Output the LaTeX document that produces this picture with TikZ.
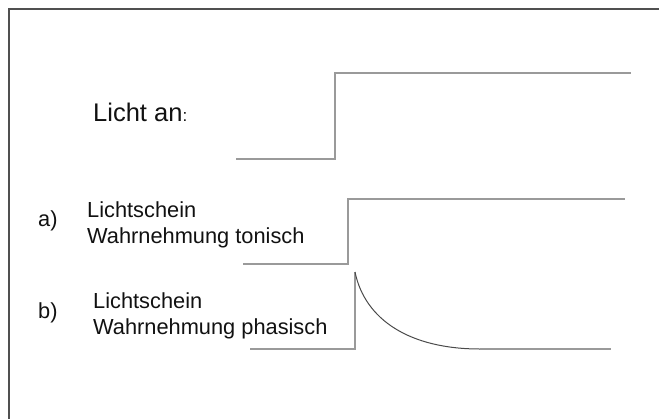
\documentclass[tikz,border=0pt]{standalone}
\usepackage{fontspec}
\setmainfont{Liberation Sans}
\definecolor{framecol}{HTML}{505050}
\definecolor{stepcol}{HTML}{9A9A9A}
\definecolor{curvecol}{HTML}{4A4A4A}
\definecolor{textcol}{HTML}{111111}
\begin{document}
\begin{tikzpicture}[x=1pt,y=-1pt,
  signal/.style={draw=stepcol,line width=1.5pt,line join=miter},
  decay/.style={draw=curvecol,line width=1pt},
  lbl/.style={anchor=base west,inner sep=0pt,text=textcol,font=\fontsize{21.8}{24}\selectfont},
  title/.style={anchor=base west,inner sep=0pt,text=textcol,font=\fontsize{25.5}{29}\selectfont}]
\useasboundingbox (0,0) rectangle (659,418);
\clip (0,0) rectangle (659,418);
% frame
\draw[framecol,line width=2pt] (8.5,8.5) rectangle (700,460);
% texts
\node[title] (licht) at (93,121) {Licht an\fontsize{17}{20}\selectfont:};
\node[lbl] (a) at (38,226) {a)};
\node[lbl] (a1) at (87,217) {Lichtschein};
\node[lbl] (a2) at (87,243) {Wahrnehmung tonisch};
\node[lbl] (b) at (38,318) {b)};
\node[lbl] (b1) at (93,308) {Lichtschein};
\node[lbl] (b2) at (93,334) {Wahrnehmung phasisch};
% signal 1: light on
\coordinate (s1a) at (236,159);
\coordinate (s1b) at (335,159);
\coordinate (s1c) at (335,73);
\coordinate (s1d) at (631,73);
\draw[signal] (s1a) -- (s1b) -- (s1c) -- (s1d);
% signal 2: tonic
\coordinate (s2a) at (243,264);
\coordinate (s2b) at (348,264);
\coordinate (s2c) at (348,199);
\coordinate (s2d) at (625,199);
\draw[signal] (s2a) -- (s2b) -- (s2c) -- (s2d);
% signal 3: phasic
\coordinate (s3a) at (250,349);
\coordinate (s3b) at (355,349);
\coordinate (s3c) at (355,272);
\coordinate (s3d) at (480,349);
\coordinate (s3e) at (611,349);
\draw[signal] (s3a) -- (s3b) -- (s3c);
\draw[decay] (s3c) .. controls (365,320) and (410,349) .. (s3d);
\draw[signal] (s3d) -- (s3e);
\end{tikzpicture}
\end{document}
